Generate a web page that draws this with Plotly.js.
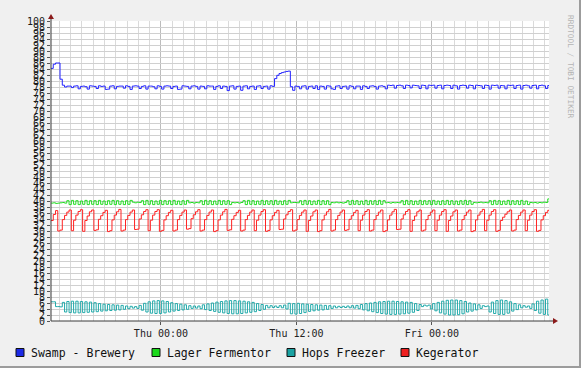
<!DOCTYPE html>
<html><head><meta charset="utf-8">
<script src="https://cdn.plot.ly/plotly-3.0.1.min.js"></script>
<style>
html,body{margin:0;padding:0;background:#f0f0f0;}
#wrap{position:relative;width:581px;height:368px;overflow:hidden;}
#chart{position:absolute;left:0;top:0;width:581px;height:368px;}
.edge{position:absolute;background:#9c9c9c;}
</style></head><body>
<div id="wrap"><div id="chart"></div>
<div class="edge" style="right:0;top:0;width:2px;height:368px"></div>
<div class="edge" style="left:0;bottom:0;width:581px;height:2px"></div>
</div>
<script>
// time in hours relative to Thu 00:00, one sample every 0.2 h
const t0 = -9.74;
const step = 0.2;
const tEnd = 34.37;

const seriesNames = ['Swamp - Brewery', 'Lager Fermentor', 'Hops Freezer', 'Kegerator'];
const xTickVals = [0, 12, 24];
const xTickText = ['Thu 00:00', 'Thu 12:00', 'Fri 00:00'];

const swamp = [
84.2,85.6,86.0,86.0,80.6,78.6,78.0,78.3,78.3,77.8,
78.3,78.4,77.4,78.2,78.3,78.1,77.3,78.4,78.3,78.2,
77.5,78.4,78.2,78.3,77.2,77.3,78.3,78.4,77.4,78.2,
78.3,78.3,77.6,78.4,78.2,77.2,78.3,78.4,78.3,77.5,
78.2,78.4,77.3,78.3,78.3,78.1,77.4,78.4,78.2,77.3,
78.3,78.4,78.3,77.5,78.2,78.3,77.2,77.3,78.4,78.3,
78.2,77.4,78.3,78.4,78.2,77.3,78.3,78.2,77.4,78.4,
78.3,78.3,77.2,78.2,78.4,77.5,78.3,78.2,76.8,78.3,
78.4,77.3,78.2,78.3,76.9,78.3,78.4,77.4,78.2,78.3,
77.2,78.3,78.4,77.5,78.2,78.3,77.3,78.4,78.2,80.8,
81.9,82.5,82.8,83.0,83.2,83.3,78.1,76.9,78.3,78.2,
77.4,78.3,78.4,77.3,78.2,78.3,77.5,78.4,77.2,78.3,
78.2,77.3,78.4,78.3,77.4,77.2,78.3,78.4,77.5,78.2,
78.3,77.3,78.4,78.2,77.4,78.3,78.3,77.2,78.4,78.2,
77.5,78.3,78.4,78.2,77.3,78.3,78.4,78.2,77.4,78.6,
78.5,78.6,77.6,78.5,78.6,78.4,77.5,78.6,78.5,77.7,
78.6,78.5,78.4,77.5,78.6,78.5,77.4,78.6,78.5,78.6,
77.6,78.5,78.6,77.4,78.5,78.6,78.5,77.5,78.6,78.4,
77.3,78.5,78.6,78.5,77.6,78.6,78.5,77.4,78.6,78.5,
78.4,77.5,78.6,78.5,77.3,78.6,78.5,78.6,77.6,78.5,
78.4,77.4,78.6,78.5,78.6,77.5,78.5,78.6,77.3,78.5,
78.6,78.4,77.6,78.5,78.6,77.4,78.5,78.6,78.4,77.5,
78.5,78.4
];

const lager = [
39.3,39.4,39.2,39.3,39.4,39.5,39.3,
40.1,38.8,40.2,38.9,40.1,38.8,40.0,38.9,40.2,38.8,40.1,38.9,40.1,38.8,40.2,38.9,40.0,38.8,40.1,38.9,40.2,38.8,40.1,38.9,40.0,38.8,40.1,38.9,40.2,
39.6,39.4,39.6,39.5,
40.1,38.8,40.2,38.9,40.1,38.8,40.0,38.9,40.2,38.8,40.1,38.9,40.1,38.8,40.2,38.9,40.0,38.8,40.1,38.9,40.2,
39.4,39.5,39.3,39.5,39.4,
40.1,38.8,40.2,38.9,40.1,38.8,40.0,38.9,40.2,38.8,40.1,38.9,40.1,38.8,
39.5,39.4,39.5,39.3,39.5,
40.1,38.8,40.2,38.9,40.1,38.8,40.0,38.9,40.2,38.8,40.1,38.9,40.1,38.8,40.2,38.9,40.0,38.8,40.1,38.9,40.2,
39.4,39.5,39.5,39.4,
40.1,38.8,40.2,38.9,40.1,38.8,40.0,38.9,40.2,38.8,40.1,38.9,40.1,38.8,
39.5,39.4,39.6,39.4,39.5,39.3,39.5,
40.1,38.8,40.2,38.9,40.1,38.8,40.0,38.9,40.2,38.8,40.1,38.9,40.1,38.8,40.2,38.9,40.1,
39.4,39.5,39.3,39.5,39.4,39.5,39.4,
40.1,38.8,40.2,38.9,40.1,38.8,40.0,38.9,40.2,38.8,40.1,38.9,40.1,38.8,40.2,38.9,40.0,38.8,40.1,38.9,40.2,38.8,40.1,38.9,40.0,38.8,40.1,38.9,40.2,38.8,40.1,38.9,
39.5,39.4,39.5,39.6,39.4,39.5,39.4,
40.1,38.8,40.2,38.9,40.1,38.8,40.0,38.9,40.2,38.8,40.1,38.9,40.1,38.8,40.2,38.9,40.0,38.8,
39.5,39.4,39.5,39.3,39.5,39.4,39.6,39.5,
40.7,38.0
];

const hops = [
6.4,6.4,4.8,4.8,4.7,
6.2,3.0,6.5,2.8,6.6,2.7,6.6,2.7,6.5,2.8,6.4,2.9,6.3,3.0,6.1,3.1,
5.8,3.3,5.6,3.4,5.5,3.5,5.4,3.6,5.3,3.7,5.2,
3.9,5.0,4.1,4.9,4.3,4.8,4.2,5.2,
3.6,5.9,3.0,6.4,2.6,6.7,2.5,6.8,2.5,6.7,2.7,6.5,
3.0,6.1,3.3,5.8,3.5,5.6,3.7,5.4,3.9,
5.1,4.2,5.0,4.3,5.0,4.1,
5.4,3.8,5.7,3.5,6.0,3.2,
6.3,2.9,6.5,2.7,6.7,2.5,6.8,2.4,6.8,2.4,6.7,2.5,6.6,2.7,6.4,2.9,6.2,3.1,
5.8,3.5,5.5,3.9,
5.2,4.4,5.1,4.5,5.0,4.5,5.1,4.4,5.3,4.0,
5.9,2.4,5.8,2.3,5.9,2.5,5.7,2.8,
5.6,3.2,5.5,3.4,5.4,3.6,5.3,3.7,5.2,3.9,5.1,
4.2,5.0,4.4,4.9,4.5,4.9,4.5,5.0,4.4,5.1,4.3,5.2,4.1,
5.5,3.7,5.8,3.4,6.0,3.1,6.2,2.8,6.4,
2.5,6.5,2.3,6.6,2.2,6.6,2.2,6.5,2.3,6.4,2.4,6.3,2.6,6.2,2.9,
5.8,3.5,5.5,
4.8,5.3,5.0,5.3,
4.0,5.8,3.4,6.2,
2.7,6.6,2.3,6.9,2.0,7.0,2.0,7.0,2.1,6.8,2.4,6.5,
3.0,6.0,3.3,5.7,3.7,5.4,4.2,
5.1,4.8,5.0,
3.0,6.3,2.5,6.8,2.2,7.0,2.2,6.8,2.6,6.4,
3.3,5.8,3.8,5.4,
4.4,5.1,4.6,5.0,4.2,5.7,3.5,
6.6,2.6,7.0,2.2,7.3,2.0,
0.8
];

const kegerator = [
33.5,35.5,36.8,
30.0,30.3,33.8,35.2,36.3,37.0,
30.1,33.6,35.3,36.5,37.1,
29.9,33.5,35.0,36.4,37.0,
30.2,30.4,33.9,35.1,36.2,36.9,
29.8,30.1,33.7,35.3,36.4,37.2,
30.0,30.3,33.8,35.2,36.3,37.0,
30.5,30.6,34.0,35.4,36.5,37.1,
30.1,33.6,35.3,36.5,37.1,
29.9,30.2,33.7,35.1,36.2,36.9,
30.0,30.3,33.8,35.2,36.3,37.0,
30.6,30.8,34.1,35.4,36.4,37.1,
30.0,30.3,33.8,35.2,36.3,37.0,
29.8,30.1,33.7,35.3,36.4,37.2,
30.2,30.4,33.9,35.1,36.2,36.9,
30.0,30.3,33.8,35.2,36.3,37.0,
30.1,33.6,35.3,36.5,37.1,
29.9,30.2,33.7,35.1,36.2,36.9,
30.5,30.6,34.0,35.4,36.5,37.1,
30.0,30.3,33.8,35.2,36.3,37.0,
29.9,33.5,35.0,36.4,37.0,
29.8,30.1,33.7,35.3,36.4,37.2,
30.0,30.3,33.8,35.2,36.3,37.0,
30.2,30.4,33.9,35.1,36.2,36.9,
30.1,33.6,35.3,36.5,37.1,
30.0,30.3,33.8,35.2,36.3,37.0,
29.8,30.1,33.7,35.3,36.4,37.2,
30.5,30.6,34.0,35.4,36.5,37.1,
29.9,33.5,35.0,36.4,37.0,
30.0,30.3,33.8,35.2,36.3,37.0,
30.1,33.6,35.3,36.5,37.1,
29.9,33.5,35.0,36.4,37.0,
30.0,30.3,33.8,35.2,36.3,37.0,
29.8,30.1,33.7,35.3,36.4,37.2,
30.1,33.6,35.3,36.5,37.1,
29.9,30.2,33.5,34.6,35.6,36.4,37.0,
30.0,30.3,33.8,35.2,36.3,37.0,
30.1,33.6,35.3,36.5,37.1,
29.9,30.2,33.7,35.1,36.2,36.9,
30.0
];

const lineColors = ['#2323ff', '#22dd22', '#22aaaa', '#ff2222'];
const swatchColors = ['#1c2ae6', '#1bd81b', '#1aa2a2', '#ee2020'];

function xs(arr) { return arr.map(function (_, i) { return t0 + i * step; }); }

const allSeries = [swamp, lager, hops, kegerator];
const traces = allSeries.map(function (vals, k) {
  return {
    type: 'scatter', mode: 'lines', name: seriesNames[k],
    x: xs(vals), y: vals,
    line: { color: lineColors[k], width: 1, shape: 'hv' },
    hoverinfo: 'skip'
  };
});

// paper-coordinate helpers (plot area 498 x 300 px)
function px(p) { return (p - 51) / 498; }
function py(p) { return (321 - p) / 300; }

const shapes = [
  { type: 'line', xref: 'paper', yref: 'paper', x0: 0, y0: 0, x1: px(553), y1: 0, line: { color: '#3a3a3a', width: 1 } },
  { type: 'line', xref: 'paper', yref: 'paper', x0: 0, y0: 0, x1: 0, y1: py(19), line: { color: '#3a3a3a', width: 1 } },
  { type: 'path', xref: 'paper', yref: 'paper',
    path: 'M ' + px(553) + ' ' + py(318) + ' L ' + px(558) + ' ' + py(321) + ' L ' + px(553) + ' ' + py(324) + ' Z',
    fillcolor: '#8b1a1a', line: { width: 0 } },
  { type: 'path', xref: 'paper', yref: 'paper',
    path: 'M ' + px(48) + ' ' + py(19) + ' L ' + px(51) + ' ' + py(14) + ' L ' + px(54) + ' ' + py(19) + ' Z',
    fillcolor: '#8b1a1a', line: { width: 0 } }
];

const legendX = [16, 152, 287, 401];
const annotations = [];
seriesNames.forEach(function (name, k) {
  shapes.push({ type: 'rect', xref: 'paper', yref: 'paper',
    x0: px(legendX[k]), x1: px(legendX[k] + 8), y0: py(348.5), y1: py(356.5),
    fillcolor: swatchColors[k], line: { color: '#111', width: 1 } });
  annotations.push({ xref: 'paper', yref: 'paper', x: px(legendX[k] + 13), y: py(352.5),
    xanchor: 'left', yanchor: 'middle', showarrow: false, text: name,
    font: { family: 'DejaVu Sans Mono', size: 11.5, color: '#111' } });
});
annotations.push({ xref: 'paper', yref: 'paper', x: px(571), y: py(67), textangle: 90,
  xanchor: 'center', yanchor: 'middle', showarrow: false, text: 'RRDTOOL / TOBI OETIKER',
  font: { family: 'DejaVu Sans Mono', size: 7.8, color: '#b4b4b4' } });

const layout = {
  width: 581, height: 368,
  margin: { l: 51, r: 32, t: 21, b: 47, pad: 0 },
  paper_bgcolor: '#f0f0f0', plot_bgcolor: '#ffffff',
  showlegend: false,
  xaxis: {
    range: [t0, tEnd], tickmode: 'array', tickvals: xTickVals, ticktext: xTickText,
    showgrid: true, gridcolor: '#bcbcbc', gridwidth: 1, zeroline: false, showline: false,
    ticks: 'outside', ticklen: 3, tickcolor: '#555',
    tickfont: { family: 'DejaVu Sans Mono', size: 10, color: '#222' },
    minor: { tick0: 0, dtick: 1, showgrid: true, gridcolor: '#dadada', gridwidth: 1 }
  },
  yaxis: {
    range: [0, 100], tickmode: 'linear', tick0: 0, dtick: 2,
    showgrid: true, gridcolor: '#d0d0d0', gridwidth: 1, zeroline: false, showline: false,
    ticks: 'outside', ticklen: 3, tickcolor: '#555',
    tickfont: { family: 'DejaVu Sans Mono', size: 10, color: '#1a1a1a' }
  },
  shapes: shapes,
  annotations: annotations
};

Plotly.newPlot('chart', traces, layout, { staticPlot: true, displayModeBar: false });
</script>
</body></html>
